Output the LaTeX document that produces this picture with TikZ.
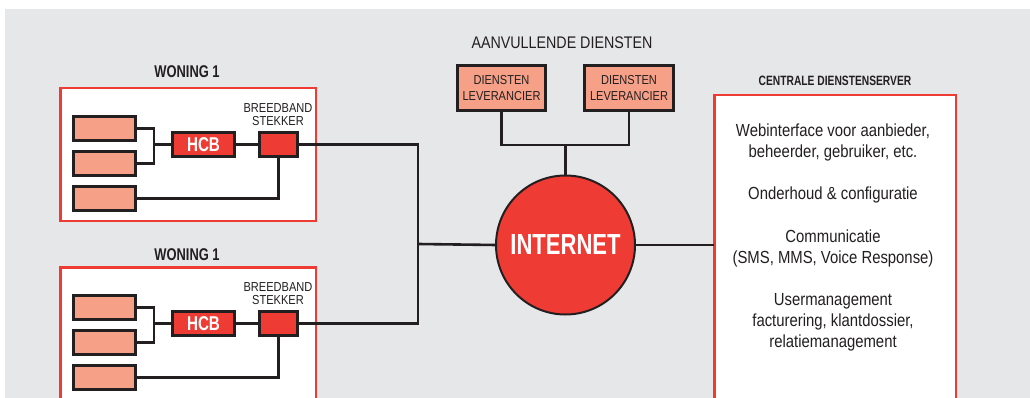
\documentclass[tikz,border=0pt]{standalone}
\usepackage{fontspec}
\setmainfont{Liberation Sans}[FakeStretch=0.85]
\newfontfamily\bcf{Liberation Sans Bold}[FakeStretch=0.76]
\definecolor{bg}{HTML}{E6E7E9}
\definecolor{rd}{HTML}{EE3B33}
\definecolor{sal}{HTML}{F5A087}
\definecolor{ink}{HTML}{231F20}
\tikzset{
  dev/.style={draw=ink, fill=sal, line width=2.8pt, minimum width=62.6pt, minimum height=24.6pt, inner sep=0pt, outer sep=0pt},
  hcbbox/.style={dev, fill=rd, text=white, font=\bcf\fontsize{20}{20}\selectfont},
  stkbox/.style={dev, fill=rd, minimum width=38.6pt},
  house/.style={draw=rd, fill=white, line width=2.6pt, minimum width=255.6pt, minimum height=132.6pt, inner sep=0pt, outer sep=0pt},
  wire/.style={draw=ink, line width=2.6pt},
  lbl/.style={text=ink, inner sep=0pt, align=center},
  hlbl/.style={lbl, font=\bcf\fontsize{17}{17}\selectfont},
  plbl/.style={lbl, font=\fontsize{13}{13.5}\selectfont},
  dlbox/.style={draw=ink, fill=sal, line width=2.8pt, minimum width=88.6pt, minimum height=45.6pt, inner sep=0pt, outer sep=0pt, text=ink, align=center, font=\fontsize{13}{16}\selectfont}
}
\begin{document}
\begin{tikzpicture}[x=1pt,y=-1pt]
\useasboundingbox (0,0) rectangle (1030,398);
\clip (0,0) rectangle (1030,398);
\fill[bg] (5,9) rectangle (1030,398);

% ---- Woning top
\node[house] (w1) at (188,154.5) {};
\node[hlbl] (w1l) at (187,72) {WONING 1};
\node[dev] (a1) at (104.5,128.5) {};
\node[dev] (a2) at (104.5,163.5) {};
\node[dev] (a3) at (104.5,198.5) {};
\node[hcbbox] (h1) at (203.5,144.5) {HCB};
\node[stkbox] (s1) at (278.5,144.5) {};
\node[plbl] (s1l) at (278,114.5) {BREEDBAND\\STEKKER};
\coordinate (j1) at (154,144.5);
\draw[wire] (a1.east) -| (j1);
\draw[wire] (a2.east) -| (j1);
\draw[wire] (j1) -- (h1.west);
\draw[wire] (h1.east) -- (s1.west);
\draw[wire] (s1.south) |- (a3.east);

% ---- Woning bottom
\node[house] (w2) at (188,333.5) {};
\node[hlbl] (w2l) at (187,255) {WONING 1};
\node[dev] (b1) at (104.5,307.5) {};
\node[dev] (b2) at (104.5,342.5) {};
\node[dev] (b3) at (104.5,377.5) {};
\node[hcbbox] (h2) at (203.5,323.5) {HCB};
\node[stkbox] (s2) at (278.5,323.5) {};
\node[plbl] (s2l) at (278,293.5) {BREEDBAND\\STEKKER};
\coordinate (j2) at (154,323.5);
\draw[wire] (b1.east) -| (j2);
\draw[wire] (b2.east) -| (j2);
\draw[wire] (j2) -- (h2.west);
\draw[wire] (h2.east) -- (s2.west);
\draw[wire] (s2.south) |- (b3.east);

% ---- Internet
\node[circle, fill=rd, draw=ink, line width=2pt, minimum size=139pt, inner sep=0pt, outer sep=0pt,
      text=white, font=\bcf\fontsize{29}{29}\selectfont] (inet) at (565.5,245) {INTERNET};
\coordinate (jn) at (418,244);
\draw[wire] (s1.east) -| (jn);
\draw[wire] (s2.east) -| (jn);
\draw[wire] (jn) -- (inet.west);

% ---- Aanvullende diensten
\node[lbl, font=\fontsize{16.8}{16.8}\selectfont] (adl) at (562,43) {AANVULLENDE DIENSTEN};
\node[dlbox] (d1) at (501.5,88) {DIENSTEN\\LEVERANCIER};
\node[dlbox] (d2) at (629,88) {DIENSTEN\\LEVERANCIER};
\coordinate (jt) at (565.5,145);
\draw[wire] (d1.south) |- (jt);
\draw[wire] (d2.south) |- (jt);
\draw[wire] (jt) -- (inet.north);

% ---- Server
\node[draw=rd, fill=white, line width=2.6pt, minimum width=241.6pt, minimum height=320pt, inner sep=0pt, outer sep=0pt] (srv) at (835,255) {};
\node[lbl, font=\bcf\fontsize{13.5}{13.5}\selectfont] (srvl) at (835,81) {CENTRALE DIENSTENSERVER};
\node[lbl, font=\fontsize{17.5}{21.1}\selectfont] (srvt) at (833,237.5)
  {Webinterface voor aanbieder,\\beheerder, gebruiker, etc.\\[21.1pt]
   Onderhoud \& configuratie\\[21.1pt]
   Communicatie\\(SMS, MMS, Voice Response)\\[21.1pt]
   Usermanagement\\facturering, klantdossier,\\relatiemanagement};
\draw[wire] (inet.east) -- (inet.east -| srv.west);
\end{tikzpicture}
\end{document}
